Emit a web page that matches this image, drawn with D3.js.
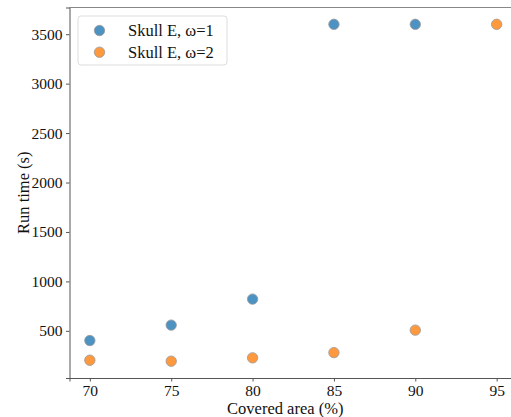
<!DOCTYPE html>
<html>
<head>
<meta charset="utf-8">
<script src="https://cdn.jsdelivr.net/npm/d3@7"></script>
<style>
  body { margin: 0; background: #fff; }
  svg text { font-family: "Liberation Serif", "DejaVu Serif", serif; fill: #111; }
</style>
</head>
<body>
<div id="chart"></div>
<script>
const coverage = [70, 75, 80, 85, 90, 95];
const omega1 = [402, 558, 821, 3600, 3600];
const omega2 = [203, 193, 227, 280, 507, 3600];
const seriesNames = ["Skull E, \u03c9=1", "Skull E, \u03c9=2"];
const xTicks = [70, 75, 80, 85, 90, 95];
const yTicks = [500, 1000, 1500, 2000, 2500, 3000, 3500];

(function(){
    const margin = { top: 7.5, left: 69.5, bottom: 39, right: -6 };
    const fullWidth = 511;
    const fullHeight = 417;
    const width = fullWidth - margin.left - margin.right;
    const height = fullHeight - margin.top - margin.bottom;

    const colors = ["rgba(31,119,180,0.8)", "rgba(255,127,14,0.8)"];

    const svg = d3.select("#chart")
        .append('svg')
            .attr('width', fullWidth)
            .attr('height', fullHeight)
        .append('g')
            .attr('transform', `translate(${margin.left}, ${margin.top})`);

    const xScale = d3.scaleLinear()
        .domain([68.75, 96.25])
        .range([0, width]);

    const yScale = d3.scaleLinear()
        .domain([23, 3770])
        .range([height, 0]);

    // frame
    svg.append('line')
        .attr('x1', 0).attr('x2', width).attr('y1', 0).attr('y2', 0)
        .attr('stroke', '#888').attr('stroke-width', 1);

    const yAxis = d3.axisLeft(yScale).tickValues(yTicks).tickFormat(d3.format('d'))
        .tickSize(3.5).tickPadding(3.5);
    const gy = svg.append('g').call(yAxis);

    const xAxis = d3.axisBottom(xScale).tickValues(xTicks).tickFormat(d3.format('d'))
        .tickSize(3.5).tickPadding(3);
    const gx = svg.append('g')
        .attr('transform', `translate(0, ${height})`)
        .call(xAxis);

    [gx, gy].forEach(g => {
        g.select('.domain').attr('stroke', '#555').attr('stroke-width', 1);
        g.selectAll('.tick line').attr('stroke', '#555');
        g.selectAll('.tick text')
            .style('font-family', '"Liberation Serif", serif')
            .style('font-size', '15.5px')
            .attr('fill', '#111');
    });

    // points
    const pts = [];
    omega1.forEach((v, i) => pts.push({x: coverage[i], y: v, s: 0}));
    omega2.forEach((v, i) => pts.push({x: coverage[i], y: v, s: 1}));

    svg.selectAll('circle.pt')
        .data(pts)
        .enter()
        .append('circle')
            .attr('class', 'pt')
            .attr('cx', d => xScale(d.x))
            .attr('cy', d => yScale(d.y))
            .attr('r', 5.2)
            .attr('fill', d => colors[d.s])
            .attr('stroke', '#999')
            .attr('stroke-width', 0.8);

    // axis titles
    svg.append('text')
        .attr('x', width / 2 - 8)
        .attr('y', height + 35.5)
        .attr('text-anchor', 'middle')
        .style('font-size', '16.5px')
        .text('Covered area (%)');

    svg.append('text')
        .attr('transform', `translate(${29 - margin.left}, ${height / 2}) rotate(-90)`)
        .attr('text-anchor', 'middle')
        .style('font-size', '16.5px')
        .text('Run time (s)');

    // legend
    const legend = svg.append('g').attr('transform', 'translate(8.5, 8.5)');
    legend.append('rect')
        .attr('width', 149)
        .attr('height', 49)
        .attr('rx', 3)
        .attr('fill', '#fff')
        .attr('stroke', '#ddd');

    seriesNames.forEach((name, i) => {
        const row = legend.append('g').attr('transform', `translate(0, ${14.5 + i * 21.7})`);
        row.append('circle')
            .attr('cx', 21.5)
            .attr('cy', 0)
            .attr('r', 5.2)
            .attr('fill', colors[i])
            .attr('stroke', '#999')
            .attr('stroke-width', 0.8);
        row.append('text')
            .attr('x', 50)
            .attr('y', 5.5)
            .style('font-size', '16.5px')
            .text(name);
    });
}());
</script>
</body>
</html>
